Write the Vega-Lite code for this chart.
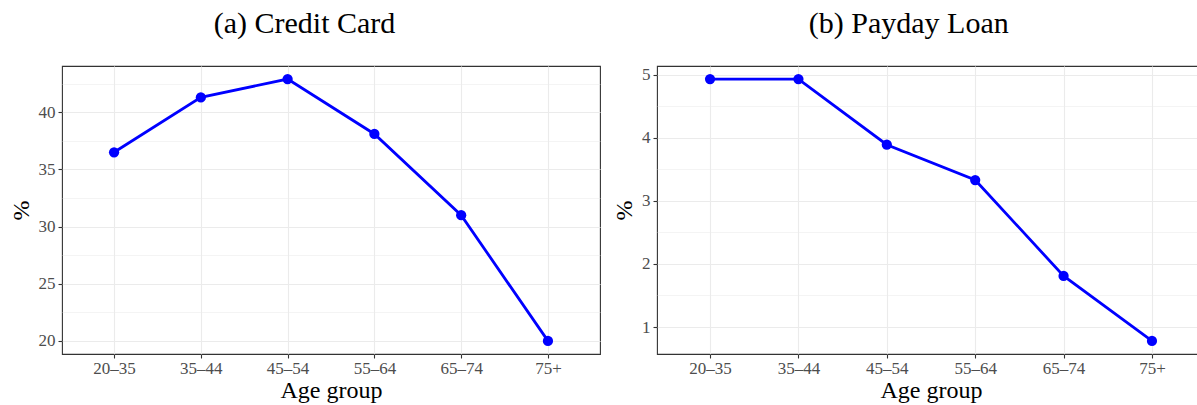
{
  "$schema": "https://vega.github.io/schema/vega-lite/v6.json",
  "padding": {"left": 8, "top": 8, "right": 0, "bottom": 0},
  "spacing": 10,
  "config": {
    "font": "Liberation Serif",
    "view": {"stroke": "#333333", "strokeWidth": 1.1},
    "axis": {
      "domain": false,
      "gridColor": "#EBEBEB",
      "gridWidth": 1.1,
      "tickColor": "#333333",
      "tickSize": 4,
      "tickWidth": 1.1,
      "labelColor": "#4D4D4D",
      "labelFontSize": 17,
      "labelFont": "Liberation Serif",
      "titleFont": "Liberation Serif",
      "titleFontSize": 24,
      "titleFontWeight": "normal",
      "titleColor": "#000000"
    },
    "axisX": {"labelPadding": 2, "titlePadding": 2, "labelAngle": 0},
    "axisY": {"labelPadding": 3, "titlePadding": 5},
    "title": {"fontSize": 30, "fontWeight": "normal", "font": "Liberation Serif", "color": "#000000", "frame": "bounds", "anchor": "middle", "offset": 27}
  },
  "datasets": {
    "credit": [
      {"age": "20–35", "pct": 36.5},
      {"age": "35–44", "pct": 41.3},
      {"age": "45–54", "pct": 42.9},
      {"age": "55–64", "pct": 38.1},
      {"age": "65–74", "pct": 31.0},
      {"age": "75+", "pct": 20.0}
    ],
    "payday": [
      {"age": "20–35", "pct": 4.93},
      {"age": "35–44", "pct": 4.93},
      {"age": "45–54", "pct": 3.89},
      {"age": "55–64", "pct": 3.33},
      {"age": "65–74", "pct": 1.81},
      {"age": "75+", "pct": 0.78}
    ]
  },
  "hconcat": [
    {
      "title": {"text": "(a) Credit Card"},
      "width": 538,
      "height": 288,
      "data": {"name": "credit"},
      "encoding": {
        "x": {"field": "age", "type": "ordinal", "sort": null, "scale": {"type": "point", "padding": 0.6}, "axis": {"title": "Age group", "grid": true}}
      },
      "layer": [
        {
          "mark": {"type": "line", "opacity": 0},
          "encoding": {
            "y": {"field": "pct", "type": "quantitative", "scale": {"domain": [18.855, 44.045], "nice": false, "zero": false},
              "axis": {"orient": "right", "values": [22.5, 27.5, 32.5, 37.5, 42.5], "grid": true, "gridWidth": 0.55, "labels": false, "ticks": false, "domain": false, "title": null}}
          }
        },
        {
          "mark": {"type": "line", "color": "#0000FF", "strokeWidth": 2.8},
          "encoding": {
            "y": {"field": "pct", "type": "quantitative", "axis": {"orient": "left", "values": [20, 25, 30, 35, 40], "grid": true, "title": "%"}}
          }
        },
        {
          "mark": {"type": "point", "filled": true, "color": "#0000FF", "size": 105, "opacity": 1},
          "encoding": {
            "y": {"field": "pct", "type": "quantitative", "axis": null}
          }
        }
      ]
    },
    {
      "title": {"text": "(b) Payday Loan"},
      "width": 548,
      "height": 288,
      "data": {"name": "payday"},
      "encoding": {
        "x": {"field": "age", "type": "ordinal", "sort": null, "scale": {"type": "point", "padding": 0.6}, "axis": {"title": "Age group", "grid": true}}
      },
      "layer": [
        {
          "mark": {"type": "line", "opacity": 0},
          "encoding": {
            "y": {"field": "pct", "type": "quantitative", "scale": {"domain": [0.5725, 5.1375], "nice": false, "zero": false},
              "axis": {"orient": "right", "values": [1.5, 2.5, 3.5, 4.5], "grid": true, "gridWidth": 0.55, "labels": false, "ticks": false, "domain": false, "title": null}}
          }
        },
        {
          "mark": {"type": "line", "color": "#0000FF", "strokeWidth": 2.8},
          "encoding": {
            "y": {"field": "pct", "type": "quantitative", "axis": {"orient": "left", "values": [1, 2, 3, 4, 5], "grid": true, "title": "%"}}
          }
        },
        {
          "mark": {"type": "point", "filled": true, "color": "#0000FF", "size": 105, "opacity": 1},
          "encoding": {
            "y": {"field": "pct", "type": "quantitative", "axis": null}
          }
        }
      ]
    }
  ]
}
